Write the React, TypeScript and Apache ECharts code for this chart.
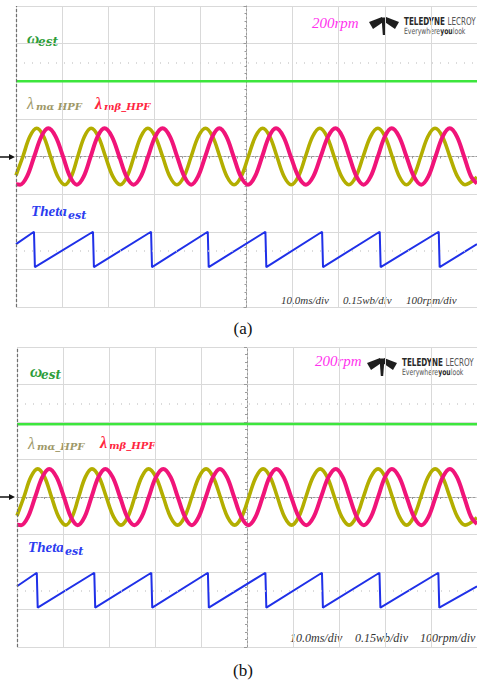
import React, { useEffect, useRef } from "react";
import * as echarts from "echarts";

// time in ms from the left edge of the screen (10 ms/div, 10 div), value in screen divisions from centre
const omegaA = [[0, 2.0], [50, 2.0], [100, 2.0]];
const omegaB = [[0, 1.94], [50, 1.95], [100, 1.94]];

const lambdaAlpha = [
  [0, -0.5], [1.5, 0], [3.0, 0.53], [4.5, 0.75], [6.0, 0.53], [7.5, 0], [9.05, -0.53], [10.6, -0.75],
  [12.0, -0.53], [13.4, 0], [14.85, 0.53], [16.3, 0.75], [17.85, 0.53], [19.4, 0], [21.0, -0.53], [22.6, -0.75],
  [24.1, -0.53], [25.6, 0], [27.1, 0.53], [28.6, 0.75], [30.2, 0.53], [31.8, 0], [33.35, -0.53], [34.9, -0.75],
  [36.45, -0.53], [38.0, 0], [39.55, 0.53], [41.1, 0.75], [42.65, 0.53], [44.2, 0], [45.75, -0.53], [47.3, -0.75],
  [48.85, -0.53], [50.4, 0], [51.95, 0.53], [53.5, 0.75], [55.05, 0.53], [56.6, 0], [58.15, -0.53], [59.7, -0.75],
  [61.25, -0.53], [62.8, 0], [64.35, 0.53], [65.9, 0.75], [67.45, 0.53], [69.0, 0], [70.6, -0.53], [72.2, -0.75],
  [73.75, -0.53], [75.3, 0], [76.9, 0.53], [78.5, 0.75], [80.05, 0.53], [81.6, 0], [83.15, -0.53], [84.7, -0.75],
  [86.25, -0.53], [87.8, 0], [89.35, 0.53], [90.9, 0.75], [92.5, 0.53], [94.1, 0], [95.75, -0.53], [97.4, -0.75],
  [100, -0.55],
];

const lambdaBeta = [
  [0, -0.74], [0.9, -0.75], [2.4, -0.53], [3.95, 0], [5.5, 0.53], [7.0, 0.75], [8.6, 0.53], [10.2, 0],
  [11.7, -0.53], [13.2, -0.75], [14.7, -0.53], [16.2, 0], [17.7, 0.53], [19.2, 0.75], [20.8, 0.53], [22.4, 0],
  [23.95, -0.53], [25.5, -0.75], [27.1, -0.53], [28.65, 0], [30.2, 0.53], [31.8, 0.75], [33.4, 0.53], [34.95, 0],
  [36.5, -0.53], [38.0, -0.75], [39.5, -0.53], [41.05, 0], [42.6, 0.53], [44.1, 0.75], [45.65, 0.53], [47.2, 0],
  [48.75, -0.53], [50.3, -0.75], [51.85, -0.53], [53.4, 0], [54.9, 0.53], [56.4, 0.75], [58.0, 0.53], [59.6, 0],
  [61.25, -0.53], [62.9, -0.75], [64.5, -0.53], [66.1, 0], [67.7, 0.53], [69.3, 0.75], [70.8, 0.53], [72.3, 0],
  [73.85, -0.53], [75.4, -0.75], [76.95, -0.53], [78.5, 0], [80.0, 0.53], [81.5, 0.75], [83.1, 0.53], [84.7, 0],
  [86.3, -0.53], [87.9, -0.75], [89.45, -0.53], [91.0, 0], [92.55, 0.53], [94.1, 0.75], [95.65, 0.53], [97.2, 0],
  [98.7, -0.53], [100, -0.72],
];

const thetaA = [
  [0, -2.33], [3.9, -2.0], [4.1, -2.94], [16.7, -2.0], [16.9, -2.94], [29.3, -2.0], [29.5, -2.94],
  [41.6, -2.0], [41.8, -2.94], [54.1, -2.0], [54.3, -2.94], [66.4, -2.0], [66.6, -2.94], [78.9, -2.0],
  [79.1, -2.94], [91.7, -2.0], [91.9, -2.94], [100, -2.33],
];

const thetaB = [
  [0, -2.38], [4.3, -2.02], [4.5, -2.95], [16.8, -2.02], [17.0, -2.95], [29.2, -2.02], [29.4, -2.95],
  [41.5, -2.02], [41.7, -2.95], [54.0, -2.02], [54.2, -2.95], [66.3, -2.02], [66.5, -2.95], [78.8, -2.02],
  [79.0, -2.95], [91.6, -2.02], [91.8, -2.95], [100, -2.38],
];

const scaleLabels = ["10.0ms/div", "0.15wb/div", "100rpm/div"];
const speedLabel = "200rpm";
const captions = ["(a)", "(b)"];

const COLORS = {
  omega: "#3de63d",
  alpha: "#b3ae00",
  beta: "#f01479",
  theta: "#1f30e8",
  grid: "#d9d9d9",
  centre: "#9a9a9a",
};

const SERIF = '"Liberation Serif", "DejaVu Serif", serif';
const SUB = '"DejaVu Serif", serif';
const SANS = '"DejaVu Sans Condensed", "DejaVu Sans", sans-serif';

function toScreen(d: number[][]) {
  return d.map(([t, v]) => [t - 50, v]);
}

function axesFor(i: number) {
  const common = {
    type: "value",
    gridIndex: i,
    axisLine: { show: true, onZero: true, lineStyle: { color: COLORS.centre, type: [2, 2], width: 1 } },
    axisTick: { show: true, length: 3, lineStyle: { color: COLORS.centre } },
    minorTick: { show: true, splitNumber: 5, length: 2, lineStyle: { color: COLORS.centre } },
    axisLabel: { show: false },
    splitLine: { show: true, lineStyle: { color: COLORS.grid, width: 1 } },
  };
  return {
    xAxis: { ...common, min: -50, max: 50, interval: 10 },
    yAxis: { ...common, min: -4, max: 4, interval: 1 },
  };
}

function seriesFor(i: number, omega: number[][], alpha: number[][], beta: number[][], theta: number[][]) {
  return [
    {
      type: "line",
      xAxisIndex: i,
      yAxisIndex: i,
      data: toScreen(omega),
      showSymbol: false,
      lineStyle: { color: COLORS.omega, width: 2.5 },
      silent: true,
      markLine: {
        silent: true,
        symbol: ["none", "none"],
        label: { show: false },
        data: [
          { xAxis: -50, lineStyle: { color: "#707070", type: [3, 2], width: 1.2 } },
          { yAxis: 2.5, lineStyle: { color: "#cfcfcf", type: [1, 7], width: 1.5 } },
          { yAxis: -2.5, lineStyle: { color: "#cfcfcf", type: [1, 7], width: 1.5 } },
        ],
      },
    },
    {
      type: "line",
      xAxisIndex: i,
      yAxisIndex: i,
      data: toScreen(alpha),
      showSymbol: false,
      smooth: 0.35,
      lineStyle: { color: COLORS.alpha, width: 3.6 },
      silent: true,
    },
    {
      type: "line",
      xAxisIndex: i,
      yAxisIndex: i,
      data: toScreen(beta),
      showSymbol: false,
      smooth: 0.35,
      lineStyle: { color: COLORS.beta, width: 4 },
      silent: true,
    },
    {
      type: "line",
      xAxisIndex: i,
      yAxisIndex: i,
      data: toScreen(theta),
      showSymbol: false,
      lineStyle: { color: COLORS.theta, width: 2 },
      silent: true,
    },
  ];
}

function txt(x: number, y: number, text: string, font: string, fill: string, align = "left") {
  return { type: "text", x, y, silent: true, style: { text, font, fill, align, verticalAlign: "middle" } };
}

function logo(x: number, y: number) {
  return {
    type: "group",
    x,
    y,
    silent: true,
    children: [
      { type: "polygon", shape: { points: [[0, 5], [13, 0], [13.5, 5.5], [4, 12]] }, style: { fill: "#1e1e1e" } },
      { type: "polygon", shape: { points: [[30, 5], [17, 0], [16.5, 5.5], [26, 12]] }, style: { fill: "#1e1e1e" } },
      { type: "polygon", shape: { points: [[12.5, 0.5], [17.5, 0.5], [16.2, 18], [13.8, 18]] }, style: { fill: "#1e1e1e" } },
      {
        type: "text",
        x: 35,
        y: 5,
        scaleX: 0.8,
        style: {
          text: "{b|TELEDYNE} {l|LECROY}",
          verticalAlign: "middle",
          rich: {
            b: { font: `bold 10px ${SANS}`, fill: "#2a2a2a" },
            l: { font: `10px ${SANS}`, fill: "#555" },
          },
        },
      },
      {
        type: "text",
        x: 35,
        y: 14,
        scaleX: 0.8,
        style: {
          text: "{n|Everywhere}{b|you}{n|look}",
          verticalAlign: "middle",
          rich: {
            n: { font: `8.5px ${SANS}`, fill: "#555" },
            b: { font: `bold 8.5px ${SANS}`, fill: "#2a2a2a" },
          },
        },
      },
    ],
  };
}

function arrow(y: number) {
  return {
    type: "group",
    silent: true,
    children: [
      { type: "line", shape: { x1: 0, y1: y, x2: 11, y2: y }, style: { stroke: "#111", lineWidth: 1.5 } },
      { type: "polygon", shape: { points: [[9, y - 3], [15, y], [9, y + 3]] }, style: { fill: "#111" } },
    ],
  };
}

export default function App() {
  const ref = useRef<HTMLDivElement>(null);
  useEffect(() => {
    if (!ref.current) return;
    const chart = echarts.init(ref.current, undefined, { renderer: "svg" });
    const a = axesFor(0);
    const b = axesFor(1);
    const labelsA = [
      txt(27, 38, "ω", `italic bold 17px ${SERIF}`, "#2e9d3a"),
      txt(38, 42, "est", `italic bold 12px ${SUB}`, "#2e9d3a"),
      txt(27, 103, "λ", `italic 16px ${SERIF}`, "#9e9868"),
      txt(36, 106, "mα HPF", `italic bold 10px ${SUB}`, "#9e9868"),
      txt(95, 103, "λ", `italic bold 16px ${SERIF}`, "#ff2640"),
      txt(104, 106, "mβ_HPF", `italic bold 10px ${SUB}`, "#ff2640"),
      txt(31, 211, "Theta", `italic bold 15px ${SERIF}`, "#2c3cf0"),
      txt(68, 215, "est", `italic bold 11px ${SUB}`, "#2c3cf0"),
      txt(312, 23, speedLabel, `italic 15px ${SERIF}`, "#ff33ee"),
      txt(281, 300, scaleLabels[0], `italic 11px ${SERIF}`, "#333"),
      txt(343, 300, scaleLabels[1], `italic 11px ${SERIF}`, "#333"),
      txt(406, 300, scaleLabels[2], `italic 11px ${SERIF}`, "#333"),
      txt(243, 328, captions[0], `17px ${SERIF}`, "#111", "center"),
      logo(369, 17),
      arrow(157),
    ];
    const labelsB = [
      txt(30, 371, "ω", `italic bold 17px ${SERIF}`, "#2e9d3a"),
      txt(41, 375, "est", `italic bold 12px ${SUB}`, "#2e9d3a"),
      txt(28, 443, "λ", `italic 16px ${SERIF}`, "#9e9868"),
      txt(37, 446, "mα_HPF", `italic bold 10px ${SUB}`, "#9e9868"),
      txt(100, 442, "λ", `italic bold 16px ${SERIF}`, "#ff2640"),
      txt(109, 445, "mβ_HPF", `italic bold 10px ${SUB}`, "#ff2640"),
      txt(28, 547, "Theta", `italic bold 15px ${SERIF}`, "#2c3cf0"),
      txt(65, 551, "est", `italic bold 11px ${SUB}`, "#2c3cf0"),
      txt(315, 361, speedLabel, `italic 15px ${SERIF}`, "#ff33ee"),
      txt(290, 638, scaleLabels[0], `italic 12px ${SERIF}`, "#333"),
      txt(355, 638, scaleLabels[1], `italic 12px ${SERIF}`, "#333"),
      txt(420, 638, scaleLabels[2], `italic 12px ${SERIF}`, "#333"),
      txt(243, 670, captions[1], `17px ${SERIF}`, "#111", "center"),
      logo(367, 358),
      arrow(497),
    ];
    chart.setOption({
      animation: false,
      backgroundColor: "#ffffff",
      grid: [
        { left: 16, top: 6, width: 463, height: 301 },
        { left: 17, top: 347, width: 463, height: 300 },
      ],
      xAxis: [a.xAxis, b.xAxis],
      yAxis: [a.yAxis, b.yAxis],
      series: [
        ...seriesFor(0, omegaA, lambdaAlpha, lambdaBeta, thetaA),
        ...seriesFor(1, omegaB, lambdaAlpha, lambdaBeta, thetaB),
      ],
      graphic: [...labelsA, ...labelsB],
    });
    return () => chart.dispose();
  }, []);
  return (
    <div
      ref={ref}
      style={{ position: "fixed", left: 0, top: 0, width: 477, height: 682, background: "#fff" }}
    />
  );
}
